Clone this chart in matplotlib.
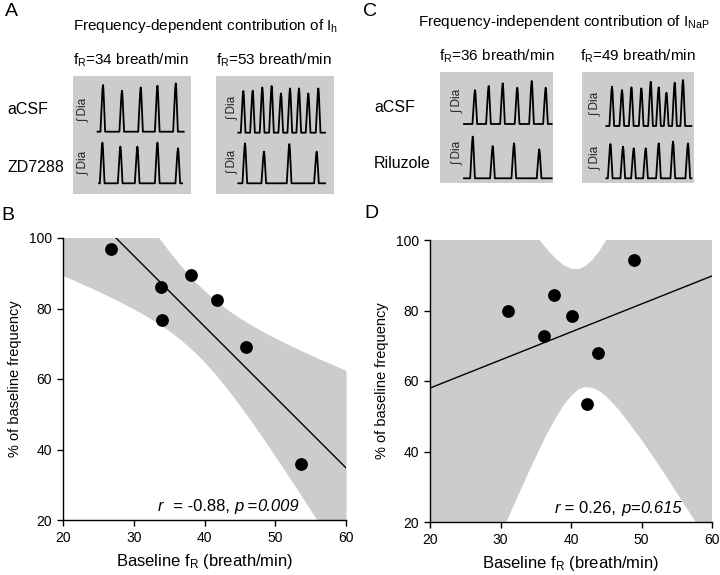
import numpy as np
import matplotlib
matplotlib.use("Agg")
import matplotlib.pyplot as plt

plt.rcParams['font.family'] = ['Liberation Sans', 'DejaVu Sans']
plt.rcParams['mathtext.fontset'] = 'custom'
plt.rcParams['mathtext.rm'] = 'Liberation Sans'
plt.rcParams['mathtext.it'] = 'Liberation Sans:italic'
plt.rcParams['mathtext.bf'] = 'Liberation Sans:bold'

# ---------------- data ----------------
# Panel B (Ih, ZD7288): baseline fR vs % of baseline frequency
B_x = [26.8, 33.8, 34.0, 38.1, 41.8, 45.8, 53.6]
B_y = [97.0, 86.2, 76.6, 89.5, 82.3, 69.2, 35.8]
B_stat = [("r", "italic"), ("  = -0.88, ", "normal"), ("p", "italic"),
          (" =", "normal"), ("0.009", "italic")]

# Panel D (INaP, riluzole)
D_x = [31.0, 36.2, 37.6, 40.1, 42.2, 43.9, 49.0]
D_y = [80.0, 72.7, 84.4, 78.3, 53.4, 68.0, 94.4]
D_fit_x = [20, 60]
D_fit_y = [58.0, 89.8]
D_band_x = [20, 22, 24, 26, 28, 30, 31, 32, 33, 34, 35, 36, 37, 38, 39, 40,
            41, 42, 43, 44, 45, 46, 47, 48, 50, 52, 54, 56, 58, 60]
D_band_lo = [-31.2, -21.6, -12.1, -2.7, 6.7, 16.1, 20.7, 25.2, 29.7, 34.1, 38.4,
             42.6, 46.5, 50.0, 53.2, 55.7, 57.5, 58.3, 58.1, 57.2, 55.6, 53.6,
             51.3, 48.7, 43.3, 37.5, 31.4, 25.2, 19.0, 12.5]
D_band_hi = [147.2, 140.8, 134.5, 128.1, 121.9, 115.7, 112.7, 109.8, 106.9, 104.1,
             101.4, 98.8, 96.5, 94.4, 92.8, 91.9, 91.7, 92.5, 94.3, 96.8, 100.0,
             103.6, 107.5, 111.7, 120.5, 129.5, 138.8, 148.0, 157.0, 167.0]
D_stat = [("r", "italic"), (" = 0.26, ", "normal"), ("p", "italic"),
          ("=", "normal"), ("0.615", "italic")]

x_ticks = [20, 30, 40, 50, 60]
y_ticks = [20, 40, 60, 80, 100]

# Integrated diaphragm traces: burst peak times (s) and amplitudes (a.u.)
A1_aCSF_t = [3.05, 4.98, 6.89, 8.59, 10.45]
A1_aCSF_h = [46.7, 41.0, 44.3, 46.0, 48.3]
A1_ZD_t = [2.99, 4.82, 6.55, 8.59, 10.68]
A1_ZD_h = [40.7, 36.7, 36.7, 40.7, 35.0]
A2_aCSF_t = [2.78, 3.73, 4.71, 5.66, 6.61, 7.53, 8.44, 9.39, 10.41]
A2_aCSF_h = [41.7, 42.0, 45.3, 46.7, 39.3, 44.3, 44.3, 39.3, 44.3]
A2_ZD_t = [2.95, 4.88, 7.46, 10.24]
A2_ZD_h = [40.0, 31.7, 39.3, 31.7]
C1_aCSF_t = [3.56, 4.95, 6.38, 7.86, 9.33, 10.75]
C1_aCSF_h = [34.0, 38.0, 40.7, 36.3, 43.0, 36.3]
C1_Ril_t = [3.33, 5.36, 7.53, 10.10]
C1_Ril_h = [41.7, 32.3, 35.0, 29.0]
C2_aCSF_t = [3.05, 4.07, 5.03, 6.04, 6.99, 7.80, 8.59, 9.43, 10.27]
C2_aCSF_h = [39.3, 36.0, 38.7, 37.7, 44.3, 38.7, 33.3, 43.3, 46.0]
C2_Ril_t = [2.89, 4.17, 5.26, 6.48, 7.80, 9.26, 10.78]
C2_Ril_h = [34.3, 31.7, 30.0, 30.0, 35.0, 36.7, 35.0]

# ---------------- figure ----------------
W, H = 720, 575
fig = plt.figure(figsize=(W / 100, H / 100), dpi=100)
fig.patch.set_facecolor('white')
GRAY = '#cccccc'


def px_axes(l, t, r, b):
    return fig.add_axes([l / W, 1 - b / H, (r - l) / W, (b - t) / H])


def ftext(x, y, s, **kw):
    return fig.text(x / W, 1 - y / H, s, **kw)


def burst_trace(ts, hs, start, end):
    xs, ys = [start], [0.0]
    for t, h in zip(ts, hs):
        xs += [t - 0.26, t - 0.06, t, t + 0.05, t + 0.22]
        ys += [0.0, 0.88 * h, h, 0.9 * h, 0.0]
    xs.append(end)
    ys.append(0.0)
    return np.array(xs), np.array(ys)


def trace_box(l, t, r, b, traces, labx, laby):
    ax = px_axes(l, t, r, b)
    ax.set_facecolor(GRAY)
    wsec = (r - l) / 9.83
    ax.set_xlim(0, wsec)
    ax.set_ylim(0, b - t)
    for (ts, hs, base, start, end) in traces:
        xs, ys = burst_trace(ts, hs, start, end)
        ax.plot(xs, ys + base, color='black', lw=1.3)
    for s in ax.spines.values():
        s.set_visible(False)
    ax.set_xticks([])
    ax.set_yticks([])
    for yy in laby:
        ftext(labx, yy, '\u222b Dia', rotation=90, ha='center', va='center',
              fontsize=8.5, color='#222222')
    return ax


def multi_text(ax, x, y, pieces, fs):
    s0, st0 = pieces[0]
    t = ax.text(x, y, s0, transform=ax.transAxes, fontsize=fs, style=st0,
                ha='left', va='bottom')
    for s, st in pieces[1:]:
        t = ax.annotate(s, xy=(1, 0), xycoords=t, fontsize=fs, style=st,
                        ha='left', va='bottom')


# Panel A
ftext(11, 12, 'A', fontsize=14, ha='center', va='center')
ftext(206, 26, 'Frequency-dependent contribution of I$_\\mathrm{h}$',
      fontsize=11, ha='center', va='center')
ftext(131, 60, 'f$_\\mathrm{R}$=34 breath/min', fontsize=11, ha='center', va='center')
ftext(274, 60, 'f$_\\mathrm{R}$=53 breath/min', fontsize=11, ha='center', va='center')
ftext(7, 110, 'aCSF', fontsize=11.5, ha='left', va='center')
ftext(7, 167, 'ZD7288', fontsize=11.5, ha='left', va='center')
trace_box(73, 76, 191, 194,
          [(A1_aCSF_t, A1_aCSF_h, 62.3, 2.5, 11.26),
           (A1_ZD_t, A1_ZD_h, 10.7, 2.65, 11.1)], 83, [110, 163])
trace_box(216, 76, 334, 194,
          [(A2_aCSF_t, A2_aCSF_h, 61.3, 2.27, 11.09),
           (A2_ZD_t, A2_ZD_h, 10.7, 2.27, 11.09)], 232, [108, 162])

# Panel C
ftext(370, 11, 'C', fontsize=14, ha='center', va='center')
ftext(564, 22, 'Frequency-independent contribution of I$_\\mathrm{NaP}$',
      fontsize=11, ha='center', va='center')
ftext(497, 56, 'f$_\\mathrm{R}$=36 breath/min', fontsize=11, ha='center', va='center')
ftext(638, 56, 'f$_\\mathrm{R}$=49 breath/min', fontsize=11, ha='center', va='center')
ftext(374, 107, 'aCSF', fontsize=11.5, ha='left', va='center')
ftext(374, 164, 'Riluzole', fontsize=11.5, ha='left', va='center')
trace_box(440, 72, 553, 183,
          [(C1_aCSF_t, C1_aCSF_h, 59.0, 2.44, 11.36),
           (C1_Ril_t, C1_Ril_h, 4.7, 2.44, 11.36)], 457, [101, 153])
trace_box(582, 72, 694, 183,
          [(C2_aCSF_t, C2_aCSF_h, 57.0, 2.48, 11.13),
           (C2_Ril_t, C2_Ril_h, 4.7, 2.48, 11.13)], 595, [104, 158])


def style_scatter_axes(ax):
    ax.set_xlim(20, 60)
    ax.set_ylim(20, 100)
    ax.set_xticks(x_ticks)
    ax.set_yticks(y_ticks)
    ax.spines['top'].set_visible(False)
    ax.spines['right'].set_visible(False)
    for s in ('left', 'bottom'):
        ax.spines[s].set_linewidth(1.0)
    ax.tick_params(direction='out', length=4, width=1.0, labelsize=10, pad=4)
    ax.set_xlabel('Baseline f$_\\mathrm{R}$ (breath/min)', fontsize=12, labelpad=5)
    ax.set_ylabel('% of baseline frequency', fontsize=10.5, labelpad=5)
    ax.set_facecolor('white')


# Panel B
axB = px_axes(63, 238, 346, 520)
bx = np.array(B_x)
by = np.array(B_y)
n = len(bx)
slope, intercept = np.polyfit(bx, by, 1)
resid = by - (slope * bx + intercept)
s_err = np.sqrt(np.sum(resid ** 2) / (n - 2))
t_crit = 2.5706  # t(0.975, df=5)
xx = np.linspace(20, 60, 200)
yy = slope * xx + intercept
hw = t_crit * s_err * np.sqrt(1 / n + (xx - bx.mean()) ** 2 / np.sum((bx - bx.mean()) ** 2))
axB.fill_between(xx, yy - hw, yy + hw, color=GRAY, lw=0, zorder=1)
axB.plot(xx, yy, color='black', lw=1.0, zorder=2)
axB.scatter(bx, by, s=85, color='black', zorder=3, linewidths=0)
style_scatter_axes(axB)
multi_text(axB, 0.336, 0.022, B_stat, 12)
ftext(8, 215, 'B', fontsize=14, ha='center', va='center')

# Panel D
axD = px_axes(430, 240, 712, 522)
axD.fill_between(D_band_x, D_band_lo, D_band_hi, color=GRAY, lw=0, zorder=1)
axD.plot(D_fit_x, D_fit_y, color='black', lw=1.0, zorder=2)
axD.scatter(D_x, D_y, s=85, color='black', zorder=3, linewidths=0)
style_scatter_axes(axD)
multi_text(axD, 0.443, 0.02, D_stat, 12)
ftext(371, 213, 'D', fontsize=14, ha='center', va='center')

fig.savefig('out.png', dpi=100, facecolor='white')
